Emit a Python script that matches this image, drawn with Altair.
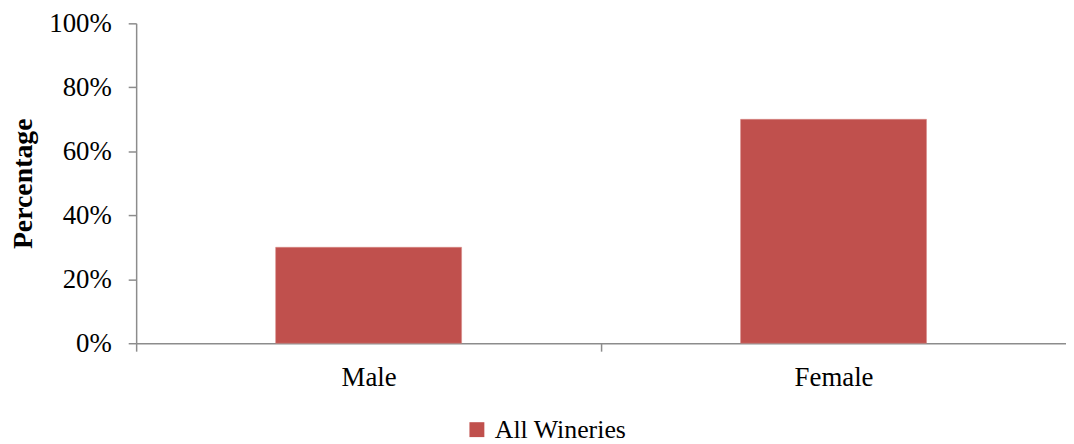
import altair as alt
import pandas as pd

categories = ["Male", "Female"]
values = [0.30, 0.70]
series = ["All Wineries", "All Wineries"]

df = pd.DataFrame({"gender": categories, "pct": values, "series": series})

FONT = "Liberation Serif"
AXIS_GREY = "#8c8c8c"
BAR = "#C0504D"

chart = (
    alt.Chart(df)
    .mark_bar(stroke="#d88a87", strokeWidth=0.5)
    .encode(
        x=alt.X(
            "gender:N",
            sort=categories,
            scale=alt.Scale(paddingInner=0.6, paddingOuter=0.3),
            axis=alt.Axis(
                title=None,
                labelAngle=0,
                tickOffset=-234,
                labelOffset=234,
                tickSize=8,
                labelPadding=14,
                labelFontSize=27,
                labelFont=FONT,
                labelColor="#000000",
                domainColor=AXIS_GREY,
                tickColor=AXIS_GREY,
                domainWidth=1.5,
                tickWidth=1.5,
            ),
        ),
        y=alt.Y(
            "pct:Q",
            scale=alt.Scale(domain=[0, 1]),
            axis=alt.Axis(
                title="Percentage",
                format=".0%",
                values=[0, 0.2, 0.4, 0.6, 0.8, 1.0],
                grid=False,
                tickSize=8,
                labelPadding=17,
                labelFontSize=27,
                labelFont=FONT,
                labelColor="#000000",
                titleFont=FONT,
                titleFontSize=28,
                titleFontWeight="bold",
                titleColor="#000000",
                titleBaseline="alphabetic",
                titleX=-105,
                titleY=161,
                titleAngle=270,
                domainColor=AXIS_GREY,
                tickColor=AXIS_GREY,
                domainWidth=1.5,
                tickWidth=1.5,
            ),
        ),
        color=alt.Color(
            "series:N",
            scale=alt.Scale(domain=["All Wineries"], range=[BAR]),
            legend=alt.Legend(
                title=None,
                orient="none",
                legendX=330,
                legendY=396,
                symbolType="square",
                symbolSize=225,
                symbolStrokeWidth=0,
                symbolOpacity=1,
                labelFont=FONT,
                labelFontSize=26,
                labelColor="#000000",
                labelOffset=5,
            ),
        ),
    )
    .properties(
        width=936,
        height=322,
        padding={"left": 129, "top": 14, "right": 0, "bottom": 100},
        autosize=alt.AutoSizeParams(type="none"),
    )
    .configure_view(stroke=None)
)

chart.save("out.html", embed_options={"renderer": "svg", "actions": False})
